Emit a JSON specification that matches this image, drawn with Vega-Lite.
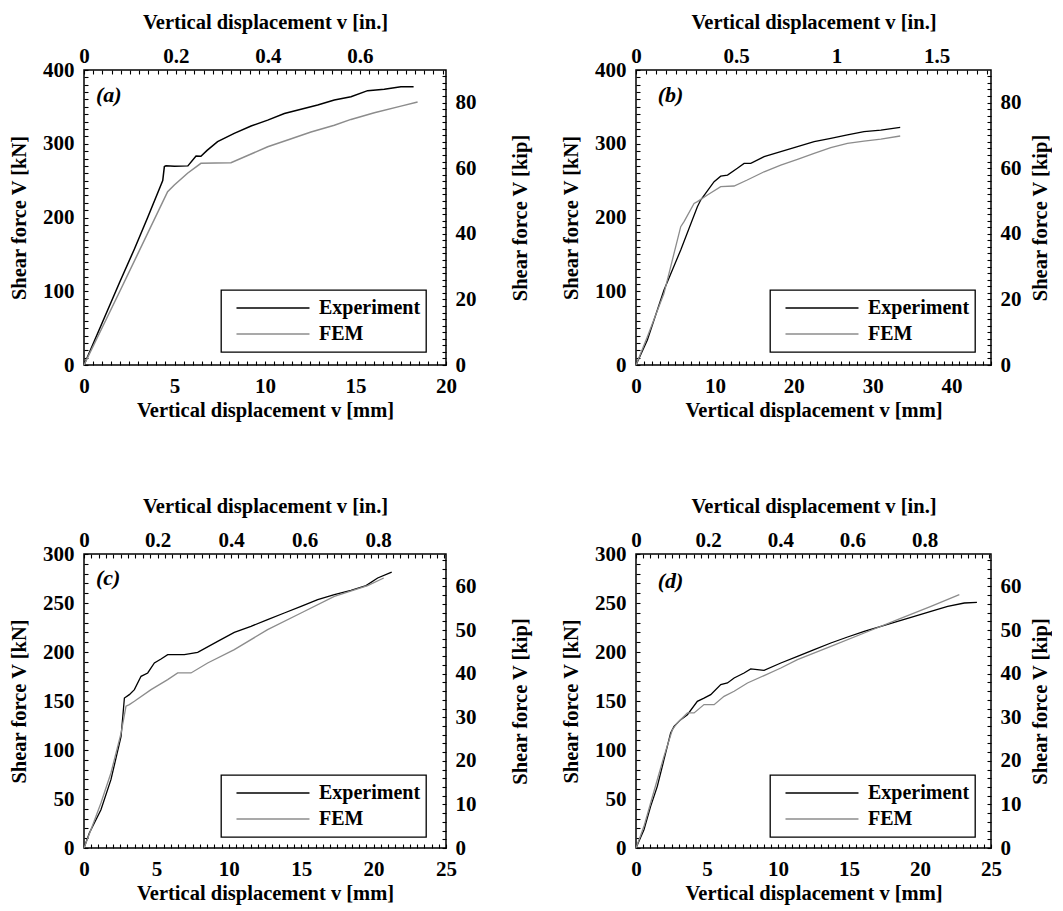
{
 "$schema": "https://vega.github.io/schema/vega-lite/v6.json",
 "padding": {"left": 8, "top": 11, "right": 0, "bottom": 0},
 "background": "white",
 "config": {
  "view": {"stroke": "black", "strokeWidth": 1.5},
  "axis": {"domain": false, "grid": false, "ticks": true, "tickSize": -4, "labelFont": "Liberation Serif", "labelFontSize": 21, "labelFontWeight": "bold", "labelColor": "black", "titleFont": "Liberation Serif", "titleFontSize": 20.5, "titleFontWeight": "bold", "titleColor": "black", "tickColor": "black", "tickWidth": 1.1, "labelFlush": false, "labelOverlap": false, "labelBound": false, "zindex": 1},
  "legend": {"strokeColor": "black", "strokeWidth": 1.3, "fillColor": "white"}
 },
 "datasets": {
  "curves": [
   {"p":"a","s":"Experiment","mm":0,"kN":0},{"p":"a","s":"Experiment","mm":1.0,"kN":57},{"p":"a","s":"Experiment","mm":2.0,"kN":114},{"p":"a","s":"Experiment","mm":2.78,"kN":157},{"p":"a","s":"Experiment","mm":3.5,"kN":199},{"p":"a","s":"Experiment","mm":4.25,"kN":244},{"p":"a","s":"Experiment","mm":4.35,"kN":250},{"p":"a","s":"Experiment","mm":4.44,"kN":269},{"p":"a","s":"Experiment","mm":4.53,"kN":270},{"p":"a","s":"Experiment","mm":5.0,"kN":269.5},{"p":"a","s":"Experiment","mm":5.74,"kN":270},{"p":"a","s":"Experiment","mm":6.19,"kN":283.4},{"p":"a","s":"Experiment","mm":6.46,"kN":283},{"p":"a","s":"Experiment","mm":6.8,"kN":291},{"p":"a","s":"Experiment","mm":7.38,"kN":302.8},{"p":"a","s":"Experiment","mm":8.3,"kN":314},{"p":"a","s":"Experiment","mm":9.23,"kN":324},{"p":"a","s":"Experiment","mm":10.15,"kN":332},{"p":"a","s":"Experiment","mm":11.07,"kN":341},{"p":"a","s":"Experiment","mm":11.99,"kN":346.7},{"p":"a","s":"Experiment","mm":12.91,"kN":352.5},{"p":"a","s":"Experiment","mm":13.83,"kN":359.3},{"p":"a","s":"Experiment","mm":14.75,"kN":363.8},{"p":"a","s":"Experiment","mm":15.67,"kN":372},{"p":"a","s":"Experiment","mm":16.59,"kN":373.8},{"p":"a","s":"Experiment","mm":17.51,"kN":377.4},{"p":"a","s":"Experiment","mm":18.21,"kN":377.4},
   {"p":"a","s":"FEM","mm":0,"kN":0},{"p":"a","s":"FEM","mm":2.0,"kN":101},{"p":"a","s":"FEM","mm":4.62,"kN":235},{"p":"a","s":"FEM","mm":4.99,"kN":244},{"p":"a","s":"FEM","mm":5.72,"kN":260},{"p":"a","s":"FEM","mm":6.46,"kN":273.5},{"p":"a","s":"FEM","mm":8.12,"kN":274.4},{"p":"a","s":"FEM","mm":9.04,"kN":284},{"p":"a","s":"FEM","mm":10.15,"kN":296},{"p":"a","s":"FEM","mm":11.25,"kN":305},{"p":"a","s":"FEM","mm":12.54,"kN":316},{"p":"a","s":"FEM","mm":13.83,"kN":325},{"p":"a","s":"FEM","mm":14.75,"kN":333},{"p":"a","s":"FEM","mm":16.04,"kN":342},{"p":"a","s":"FEM","mm":17.51,"kN":351},{"p":"a","s":"FEM","mm":18.43,"kN":356.6},
   {"p":"b","s":"Experiment","mm":0,"kN":0},{"p":"b","s":"Experiment","mm":1.44,"kN":34},{"p":"b","s":"Experiment","mm":3.55,"kN":101.7},{"p":"b","s":"Experiment","mm":5.67,"kN":156},{"p":"b","s":"Experiment","mm":7.78,"kN":214.7},{"p":"b","s":"Experiment","mm":8.2,"kN":223.7},{"p":"b","s":"Experiment","mm":9.9,"kN":248.6},{"p":"b","s":"Experiment","mm":10.74,"kN":256},{"p":"b","s":"Experiment","mm":11.6,"kN":257.6},{"p":"b","s":"Experiment","mm":12.85,"kN":266.7},{"p":"b","s":"Experiment","mm":13.7,"kN":273.4},{"p":"b","s":"Experiment","mm":14.55,"kN":273.4},{"p":"b","s":"Experiment","mm":16.24,"kN":282.5},{"p":"b","s":"Experiment","mm":18.35,"kN":289.3},{"p":"b","s":"Experiment","mm":20.47,"kN":296},{"p":"b","s":"Experiment","mm":22.58,"kN":302.8},{"p":"b","s":"Experiment","mm":24.69,"kN":307.3},{"p":"b","s":"Experiment","mm":26.8,"kN":311.9},{"p":"b","s":"Experiment","mm":28.9,"kN":316.4},{"p":"b","s":"Experiment","mm":31.04,"kN":318.6},{"p":"b","s":"Experiment","mm":33.49,"kN":322.3},
   {"p":"b","s":"FEM","mm":0,"kN":0},{"p":"b","s":"FEM","mm":1.44,"kN":38.4},{"p":"b","s":"FEM","mm":3.55,"kN":97.2},{"p":"b","s":"FEM","mm":5.67,"kN":187.6},{"p":"b","s":"FEM","mm":6.09,"kN":194.4},{"p":"b","s":"FEM","mm":7.36,"kN":219},{"p":"b","s":"FEM","mm":7.78,"kN":221.5},{"p":"b","s":"FEM","mm":9.05,"kN":230.5},{"p":"b","s":"FEM","mm":10.74,"kN":241.8},{"p":"b","s":"FEM","mm":12.43,"kN":242.7},{"p":"b","s":"FEM","mm":14.1,"kN":250.8},{"p":"b","s":"FEM","mm":16.24,"kN":262},{"p":"b","s":"FEM","mm":18.35,"kN":271},{"p":"b","s":"FEM","mm":20.47,"kN":278.9},{"p":"b","s":"FEM","mm":22.58,"kN":287},{"p":"b","s":"FEM","mm":24.69,"kN":294.7},{"p":"b","s":"FEM","mm":26.8,"kN":300.6},{"p":"b","s":"FEM","mm":28.9,"kN":303.7},{"p":"b","s":"FEM","mm":31.04,"kN":306.4},{"p":"b","s":"FEM","mm":33.49,"kN":310.5},
   {"p":"c","s":"Experiment","mm":0,"kN":0},{"p":"c","s":"Experiment","mm":0.37,"kN":15.3},{"p":"c","s":"Experiment","mm":1.17,"kN":39},{"p":"c","s":"Experiment","mm":1.86,"kN":69.7},{"p":"c","s":"Experiment","mm":2.56,"kN":114},{"p":"c","s":"Experiment","mm":2.79,"kN":153},{"p":"c","s":"Experiment","mm":3.13,"kN":156.5},{"p":"c","s":"Experiment","mm":3.48,"kN":161.6},{"p":"c","s":"Experiment","mm":3.94,"kN":175.2},{"p":"c","s":"Experiment","mm":4.4,"kN":178.6},{"p":"c","s":"Experiment","mm":4.86,"kN":188.8},{"p":"c","s":"Experiment","mm":5.32,"kN":192.9},{"p":"c","s":"Experiment","mm":5.78,"kN":197.3},{"p":"c","s":"Experiment","mm":6.93,"kN":197.3},{"p":"c","s":"Experiment","mm":7.85,"kN":199.7},{"p":"c","s":"Experiment","mm":9.23,"kN":210.9},{"p":"c","s":"Experiment","mm":10.38,"kN":220},{"p":"c","s":"Experiment","mm":11.53,"kN":226.2},{"p":"c","s":"Experiment","mm":12.68,"kN":233},{"p":"c","s":"Experiment","mm":13.83,"kN":239.8},{"p":"c","s":"Experiment","mm":14.99,"kN":246.6},{"p":"c","s":"Experiment","mm":16.14,"kN":253.4},{"p":"c","s":"Experiment","mm":17.29,"kN":258.5},{"p":"c","s":"Experiment","mm":18.44,"kN":263},{"p":"c","s":"Experiment","mm":19.48,"kN":267.7},{"p":"c","s":"Experiment","mm":20.28,"kN":275.5},{"p":"c","s":"Experiment","mm":21.25,"kN":281.6},
   {"p":"c","s":"FEM","mm":0,"kN":0},{"p":"c","s":"FEM","mm":0.48,"kN":18.7},{"p":"c","s":"FEM","mm":1.17,"kN":45.9},{"p":"c","s":"FEM","mm":1.86,"kN":76.5},{"p":"c","s":"FEM","mm":2.56,"kN":117.3},{"p":"c","s":"FEM","mm":2.9,"kN":144.6},{"p":"c","s":"FEM","mm":3.13,"kN":146.3},{"p":"c","s":"FEM","mm":3.48,"kN":149.7},{"p":"c","s":"FEM","mm":4.63,"kN":161.6},{"p":"c","s":"FEM","mm":5.78,"kN":171.8},{"p":"c","s":"FEM","mm":6.47,"kN":178.6},{"p":"c","s":"FEM","mm":7.39,"kN":178.6},{"p":"c","s":"FEM","mm":8.54,"kN":188.8},{"p":"c","s":"FEM","mm":10.38,"kN":202.4},{"p":"c","s":"FEM","mm":12.68,"kN":222.8},{"p":"c","s":"FEM","mm":14.99,"kN":239.8},{"p":"c","s":"FEM","mm":17.29,"kN":256.8},{"p":"c","s":"FEM","mm":19.59,"kN":267.7},{"p":"c","s":"FEM","mm":20.7,"kN":275.5},
   {"p":"d","s":"Experiment","mm":0,"kN":0},{"p":"d","s":"Experiment","mm":0.56,"kN":18.7},{"p":"d","s":"Experiment","mm":1.03,"kN":42.5},{"p":"d","s":"Experiment","mm":1.5,"kN":62.9},{"p":"d","s":"Experiment","mm":1.97,"kN":90.1},{"p":"d","s":"Experiment","mm":2.44,"kN":117.3},{"p":"d","s":"Experiment","mm":2.68,"kN":124.1},{"p":"d","s":"Experiment","mm":3.15,"kN":131},{"p":"d","s":"Experiment","mm":3.62,"kN":136},{"p":"d","s":"Experiment","mm":4.32,"kN":149.7},{"p":"d","s":"Experiment","mm":4.79,"kN":153},{"p":"d","s":"Experiment","mm":5.26,"kN":156.5},{"p":"d","s":"Experiment","mm":5.97,"kN":166.7},{"p":"d","s":"Experiment","mm":6.44,"kN":168.4},{"p":"d","s":"Experiment","mm":6.91,"kN":173.5},{"p":"d","s":"Experiment","mm":7.61,"kN":178.6},{"p":"d","s":"Experiment","mm":8.08,"kN":182.7},{"p":"d","s":"Experiment","mm":9.02,"kN":181.3},{"p":"d","s":"Experiment","mm":10.2,"kN":188.8},{"p":"d","s":"Experiment","mm":11.37,"kN":195.6},{"p":"d","s":"Experiment","mm":12.55,"kN":202.4},{"p":"d","s":"Experiment","mm":13.72,"kN":209.2},{"p":"d","s":"Experiment","mm":14.9,"kN":215.3},{"p":"d","s":"Experiment","mm":16.07,"kN":221.1},{"p":"d","s":"Experiment","mm":17.25,"kN":226.2},{"p":"d","s":"Experiment","mm":18.42,"kN":231.3},{"p":"d","s":"Experiment","mm":19.6,"kN":236.4},{"p":"d","s":"Experiment","mm":20.77,"kN":241.5},{"p":"d","s":"Experiment","mm":21.95,"kN":246.6},{"p":"d","s":"Experiment","mm":23.12,"kN":250},{"p":"d","s":"Experiment","mm":24.01,"kN":250.7},
   {"p":"d","s":"FEM","mm":0,"kN":0},{"p":"d","s":"FEM","mm":0.56,"kN":22.1},{"p":"d","s":"FEM","mm":1.03,"kN":45.9},{"p":"d","s":"FEM","mm":1.97,"kN":93.5},{"p":"d","s":"FEM","mm":2.56,"kN":120.7},{"p":"d","s":"FEM","mm":2.91,"kN":127.6},{"p":"d","s":"FEM","mm":3.62,"kN":137.8},{"p":"d","s":"FEM","mm":4.09,"kN":137.8},{"p":"d","s":"FEM","mm":4.79,"kN":146.3},{"p":"d","s":"FEM","mm":5.5,"kN":146.3},{"p":"d","s":"FEM","mm":6.2,"kN":154.8},{"p":"d","s":"FEM","mm":6.91,"kN":159.9},{"p":"d","s":"FEM","mm":7.85,"kN":168.4},{"p":"d","s":"FEM","mm":9.02,"kN":175.9},{"p":"d","s":"FEM","mm":10.2,"kN":183.7},{"p":"d","s":"FEM","mm":11.37,"kN":192.2},{"p":"d","s":"FEM","mm":13.72,"kN":205.8},{"p":"d","s":"FEM","mm":16.07,"kN":219.4},{"p":"d","s":"FEM","mm":18.42,"kN":233},{"p":"d","s":"FEM","mm":20.77,"kN":246.6},{"p":"d","s":"FEM","mm":22.77,"kN":258.5}
  ]
 },
 "spacing": 73,
 "resolve": {"scale": {"color": "independent"}, "legend": {"color": "independent"}},
 "vconcat": [
  {
   "hconcat": [
    {
     "width": 362, "height": 295,
     "resolve": {"scale": {"x": "independent", "y": "independent"}},
     "layer": [
      {"data": {"name": "curves"}, "transform": [{"filter": "datum.p === 'a'"}],
       "mark": {"type": "line", "strokeWidth": 1.5},
       "encoding": {
        "x": {"field": "mm", "type": "quantitative", "scale": {"domain": [0, 20], "nice": false},
         "axis": {"orient": "bottom", "title": "Vertical displacement v [mm]", "labelOverlap": false, "values": [0,0.5,1,1.5,2,2.5,3,3.5,4,4.5,5,5.5,6,6.5,7,7.5,8,8.5,9,9.5,10,10.5,11,11.5,12,12.5,13,13.5,14,14.5,15,15.5,16,16.5,17,17.5,18,18.5,19,19.5,20],
          "labelExpr": "abs(datum.value/5 - round(datum.value/5)) < 1e-6 ? format(datum.value, '~g') : ''",
          "labelPadding": 14, "titlePadding": 4}},
        "y": {"field": "kN", "type": "quantitative", "scale": {"domain": [0, 400], "nice": false},
         "axis": {"orient": "left", "title": "Shear force V [kN]", "labelOverlap": false, "values": [0,10,20,30,40,50,60,70,80,90,100,110,120,130,140,150,160,170,180,190,200,210,220,230,240,250,260,270,280,290,300,310,320,330,340,350,360,370,380,390,400],
          "labelExpr": "abs(datum.value/100 - round(datum.value/100)) < 1e-6 ? format(datum.value, '~g') : ''",
          "labelPadding": 14, "titlePadding": 13}},
        "color": {"field": "s", "type": "nominal", "scale": {"domain": ["Experiment", "FEM"], "range": ["#000000", "#8c8c8c"]},
         "legend": {"orient": "none", "legendX": 137, "legendY": 220, "title": null, "symbolType": "M-0.74,0H1.26", "symbolSize": 5329, "symbolStrokeWidth": 1.3, "symbolFillColor": "transparent", "clipHeight": 26, "rowPadding": 0, "symbolOffset": 0, "labelOffset": 18, "padding": 5, "labelFont": "Liberation Serif", "labelFontSize": 20, "labelFontWeight": "bold", "labelColor": "black"}}
       }},
      {"data": {"values": [{"inch": 0.026, "kip": 82.3, "label": "(a)"}]},
       "mark": {"type": "text", "align": "left", "baseline": "middle", "font": "Liberation Serif", "fontSize": 22, "fontStyle": "italic", "fontWeight": "bold", "color": "black"},
       "encoding": {
        "text": {"field": "label"},
        "x": {"field": "inch", "type": "quantitative", "scale": {"domain": [0, 0.787402], "nice": false},
         "axis": {"orient": "top", "title": "Vertical displacement v [in.]", "labelOverlap": false, "values": [0,0.02,0.04,0.06,0.08,0.1,0.12,0.14,0.16,0.18,0.2,0.22,0.24,0.26,0.28,0.3,0.32,0.34,0.36,0.38,0.4,0.42,0.44,0.46,0.48,0.5,0.52,0.54,0.56,0.58,0.6,0.62,0.64,0.66,0.68,0.7,0.72,0.74,0.76,0.78],
          "labelExpr": "abs(datum.value/0.2 - round(datum.value/0.2)) < 1e-6 ? format(datum.value, '~g') : ''",
          "labelPadding": 8, "titlePadding": 13}},
        "y": {"field": "kip", "type": "quantitative", "scale": {"domain": [0, 89.9236], "nice": false},
         "axis": {"orient": "right", "title": "Shear force V [kip]", "titleAngle": 270, "titleBaseline": "top", "labelOverlap": false, "values": [0,2,4,6,8,10,12,14,16,18,20,22,24,26,28,30,32,34,36,38,40,42,44,46,48,50,52,54,56,58,60,62,64,66,68,70,72,74,76,78,80,82,84,86,88],
          "labelExpr": "abs(datum.value/20 - round(datum.value/20)) < 1e-6 ? format(datum.value, '~g') : ''",
          "labelPadding": 13, "titlePadding": 34}}
       }}
     ]
    },
    {
     "width": 355, "height": 295,
     "resolve": {"scale": {"x": "independent", "y": "independent"}},
     "layer": [
      {"data": {"name": "curves"}, "transform": [{"filter": "datum.p === 'b'"}],
       "mark": {"type": "line", "strokeWidth": 1.3},
       "encoding": {
        "x": {"field": "mm", "type": "quantitative", "scale": {"domain": [0, 45], "nice": false},
         "axis": {"orient": "bottom", "title": "Vertical displacement v [mm]", "labelOverlap": false, "values": [0,1,2,3,4,5,6,7,8,9,10,11,12,13,14,15,16,17,18,19,20,21,22,23,24,25,26,27,28,29,30,31,32,33,34,35,36,37,38,39,40,41,42,43,44,45],
          "labelExpr": "abs(datum.value/10 - round(datum.value/10)) < 1e-6 ? format(datum.value, '~g') : ''",
          "labelPadding": 14, "titlePadding": 4}},
        "y": {"field": "kN", "type": "quantitative", "scale": {"domain": [0, 400], "nice": false},
         "axis": {"orient": "left", "title": "Shear force V [kN]", "labelOverlap": false, "values": [0,10,20,30,40,50,60,70,80,90,100,110,120,130,140,150,160,170,180,190,200,210,220,230,240,250,260,270,280,290,300,310,320,330,340,350,360,370,380,390,400],
          "labelExpr": "abs(datum.value/100 - round(datum.value/100)) < 1e-6 ? format(datum.value, '~g') : ''",
          "labelPadding": 14, "titlePadding": 13}},
        "color": {"field": "s", "type": "nominal", "scale": {"domain": ["Experiment", "FEM"], "range": ["#000000", "#8c8c8c"]},
         "legend": {"orient": "none", "legendX": 134, "legendY": 220, "title": null, "symbolType": "M-0.74,0H1.26", "symbolSize": 5329, "symbolStrokeWidth": 1.3, "symbolFillColor": "transparent", "clipHeight": 26, "rowPadding": 0, "symbolOffset": 0, "labelOffset": 18, "padding": 5, "labelFont": "Liberation Serif", "labelFontSize": 20, "labelFontWeight": "bold", "labelColor": "black"}}
       }},
      {"data": {"values": [{"inch": 0.108, "kip": 82.3, "label": "(b)"}]},
       "mark": {"type": "text", "align": "left", "baseline": "middle", "font": "Liberation Serif", "fontSize": 22, "fontStyle": "italic", "fontWeight": "bold", "color": "black"},
       "encoding": {
        "text": {"field": "label"},
        "x": {"field": "inch", "type": "quantitative", "scale": {"domain": [0, 1.771654], "nice": false},
         "axis": {"orient": "top", "title": "Vertical displacement v [in.]", "labelOverlap": false, "values": [0,0.05,0.1,0.15,0.2,0.25,0.3,0.35,0.4,0.45,0.5,0.55,0.6,0.65,0.7,0.75,0.8,0.85,0.9,0.95,1,1.05,1.1,1.15,1.2,1.25,1.3,1.35,1.4,1.45,1.5,1.55,1.6,1.65,1.7,1.75],
          "labelExpr": "abs(datum.value/0.5 - round(datum.value/0.5)) < 1e-6 ? format(datum.value, '~g') : ''",
          "labelPadding": 8, "titlePadding": 13}},
        "y": {"field": "kip", "type": "quantitative", "scale": {"domain": [0, 89.9236], "nice": false},
         "axis": {"orient": "right", "title": "Shear force V [kip]", "titleAngle": 270, "titleBaseline": "top", "labelOverlap": false, "values": [0,2,4,6,8,10,12,14,16,18,20,22,24,26,28,30,32,34,36,38,40,42,44,46,48,50,52,54,56,58,60,62,64,66,68,70,72,74,76,78,80,82,84,86,88],
          "labelExpr": "abs(datum.value/20 - round(datum.value/20)) < 1e-6 ? format(datum.value, '~g') : ''",
          "labelPadding": 13, "titlePadding": 9}}
       }}
     ]
    }
   ],
   "spacing": 28,
   "resolve": {"scale": {"color": "independent"}, "legend": {"color": "independent"}}
  },
  {
   "hconcat": [
    {
     "width": 362, "height": 294,
     "resolve": {"scale": {"x": "independent", "y": "independent"}},
     "layer": [
      {"data": {"name": "curves"}, "transform": [{"filter": "datum.p === 'c'"}],
       "mark": {"type": "line", "strokeWidth": 1.3},
       "encoding": {
        "x": {"field": "mm", "type": "quantitative", "scale": {"domain": [0, 25], "nice": false},
         "axis": {"orient": "bottom", "title": "Vertical displacement v [mm]", "labelOverlap": false, "values": [0,0.5,1,1.5,2,2.5,3,3.5,4,4.5,5,5.5,6,6.5,7,7.5,8,8.5,9,9.5,10,10.5,11,11.5,12,12.5,13,13.5,14,14.5,15,15.5,16,16.5,17,17.5,18,18.5,19,19.5,20,20.5,21,21.5,22,22.5,23,23.5,24,24.5,25],
          "labelExpr": "abs(datum.value/5 - round(datum.value/5)) < 1e-6 ? format(datum.value, '~g') : ''",
          "labelPadding": 14, "titlePadding": 4}},
        "y": {"field": "kN", "type": "quantitative", "scale": {"domain": [0, 300], "nice": false},
         "axis": {"orient": "left", "title": "Shear force V [kN]", "labelOverlap": false, "values": [0,10,20,30,40,50,60,70,80,90,100,110,120,130,140,150,160,170,180,190,200,210,220,230,240,250,260,270,280,290,300],
          "labelExpr": "abs(datum.value/50 - round(datum.value/50)) < 1e-6 ? format(datum.value, '~g') : ''",
          "labelPadding": 14, "titlePadding": 13}},
        "color": {"field": "s", "type": "nominal", "scale": {"domain": ["Experiment", "FEM"], "range": ["#000000", "#8c8c8c"]},
         "legend": {"orient": "none", "legendX": 137, "legendY": 221, "title": null, "symbolType": "M-0.74,0H1.26", "symbolSize": 5329, "symbolStrokeWidth": 1.3, "symbolFillColor": "transparent", "clipHeight": 26, "rowPadding": 0, "symbolOffset": 0, "labelOffset": 18, "padding": 5, "labelFont": "Liberation Serif", "labelFontSize": 20, "labelFontWeight": "bold", "labelColor": "black"}}
       }},
      {"data": {"values": [{"inch": 0.0327, "kip": 62.05, "label": "(c)"}]},
       "mark": {"type": "text", "align": "left", "baseline": "middle", "font": "Liberation Serif", "fontSize": 22, "fontStyle": "italic", "fontWeight": "bold", "color": "black"},
       "encoding": {
        "text": {"field": "label"},
        "x": {"field": "inch", "type": "quantitative", "scale": {"domain": [0, 0.984252], "nice": false},
         "axis": {"orient": "top", "title": "Vertical displacement v [in.]", "labelOverlap": false, "values": [0,0.02,0.04,0.06,0.08,0.1,0.12,0.14,0.16,0.18,0.2,0.22,0.24,0.26,0.28,0.3,0.32,0.34,0.36,0.38,0.4,0.42,0.44,0.46,0.48,0.5,0.52,0.54,0.56,0.58,0.6,0.62,0.64,0.66,0.68,0.7,0.72,0.74,0.76,0.78,0.8,0.82,0.84,0.86,0.88,0.9,0.92,0.94,0.96,0.98],
          "labelExpr": "abs(datum.value/0.2 - round(datum.value/0.2)) < 1e-6 ? format(datum.value, '~g') : ''",
          "labelPadding": 8, "titlePadding": 13}},
        "y": {"field": "kip", "type": "quantitative", "scale": {"domain": [0, 67.4427], "nice": false},
         "axis": {"orient": "right", "title": "Shear force V [kip]", "titleAngle": 270, "titleBaseline": "top", "labelOverlap": false, "values": [0,2,4,6,8,10,12,14,16,18,20,22,24,26,28,30,32,34,36,38,40,42,44,46,48,50,52,54,56,58,60,62,64,66],
          "labelExpr": "abs(datum.value/10 - round(datum.value/10)) < 1e-6 ? format(datum.value, '~g') : ''",
          "labelPadding": 13, "titlePadding": 34}}
       }}
     ]
    },
    {
     "width": 355, "height": 294,
     "resolve": {"scale": {"x": "independent", "y": "independent"}},
     "layer": [
      {"data": {"name": "curves"}, "transform": [{"filter": "datum.p === 'd'"}],
       "mark": {"type": "line", "strokeWidth": 1.3},
       "encoding": {
        "x": {"field": "mm", "type": "quantitative", "scale": {"domain": [0, 25], "nice": false},
         "axis": {"orient": "bottom", "title": "Vertical displacement v [mm]", "labelOverlap": false, "values": [0,0.5,1,1.5,2,2.5,3,3.5,4,4.5,5,5.5,6,6.5,7,7.5,8,8.5,9,9.5,10,10.5,11,11.5,12,12.5,13,13.5,14,14.5,15,15.5,16,16.5,17,17.5,18,18.5,19,19.5,20,20.5,21,21.5,22,22.5,23,23.5,24,24.5,25],
          "labelExpr": "abs(datum.value/5 - round(datum.value/5)) < 1e-6 ? format(datum.value, '~g') : ''",
          "labelPadding": 14, "titlePadding": 4}},
        "y": {"field": "kN", "type": "quantitative", "scale": {"domain": [0, 300], "nice": false},
         "axis": {"orient": "left", "title": "Shear force V [kN]", "labelOverlap": false, "values": [0,10,20,30,40,50,60,70,80,90,100,110,120,130,140,150,160,170,180,190,200,210,220,230,240,250,260,270,280,290,300],
          "labelExpr": "abs(datum.value/50 - round(datum.value/50)) < 1e-6 ? format(datum.value, '~g') : ''",
          "labelPadding": 14, "titlePadding": 13}},
        "color": {"field": "s", "type": "nominal", "scale": {"domain": ["Experiment", "FEM"], "range": ["#000000", "#8c8c8c"]},
         "legend": {"orient": "none", "legendX": 134, "legendY": 221, "title": null, "symbolType": "M-0.74,0H1.26", "symbolSize": 5329, "symbolStrokeWidth": 1.3, "symbolFillColor": "transparent", "clipHeight": 26, "rowPadding": 0, "symbolOffset": 0, "labelOffset": 18, "padding": 5, "labelFont": "Liberation Serif", "labelFontSize": 20, "labelFontWeight": "bold", "labelColor": "black"}}
       }},
      {"data": {"values": [{"inch": 0.0602, "kip": 61.15, "label": "(d)"}]},
       "mark": {"type": "text", "align": "left", "baseline": "middle", "font": "Liberation Serif", "fontSize": 22, "fontStyle": "italic", "fontWeight": "bold", "color": "black"},
       "encoding": {
        "text": {"field": "label"},
        "x": {"field": "inch", "type": "quantitative", "scale": {"domain": [0, 0.984252], "nice": false},
         "axis": {"orient": "top", "title": "Vertical displacement v [in.]", "labelOverlap": false, "values": [0,0.02,0.04,0.06,0.08,0.1,0.12,0.14,0.16,0.18,0.2,0.22,0.24,0.26,0.28,0.3,0.32,0.34,0.36,0.38,0.4,0.42,0.44,0.46,0.48,0.5,0.52,0.54,0.56,0.58,0.6,0.62,0.64,0.66,0.68,0.7,0.72,0.74,0.76,0.78,0.8,0.82,0.84,0.86,0.88,0.9,0.92,0.94,0.96,0.98],
          "labelExpr": "abs(datum.value/0.2 - round(datum.value/0.2)) < 1e-6 ? format(datum.value, '~g') : ''",
          "labelPadding": 8, "titlePadding": 13}},
        "y": {"field": "kip", "type": "quantitative", "scale": {"domain": [0, 67.4427], "nice": false},
         "axis": {"orient": "right", "title": "Shear force V [kip]", "titleAngle": 270, "titleBaseline": "top", "labelOverlap": false, "values": [0,2,4,6,8,10,12,14,16,18,20,22,24,26,28,30,32,34,36,38,40,42,44,46,48,50,52,54,56,58,60,62,64,66],
          "labelExpr": "abs(datum.value/10 - round(datum.value/10)) < 1e-6 ? format(datum.value, '~g') : ''",
          "labelPadding": 13, "titlePadding": 9}}
       }}
     ]
    }
   ],
   "spacing": 28,
   "resolve": {"scale": {"color": "independent"}, "legend": {"color": "independent"}}
  }
 ]
}
